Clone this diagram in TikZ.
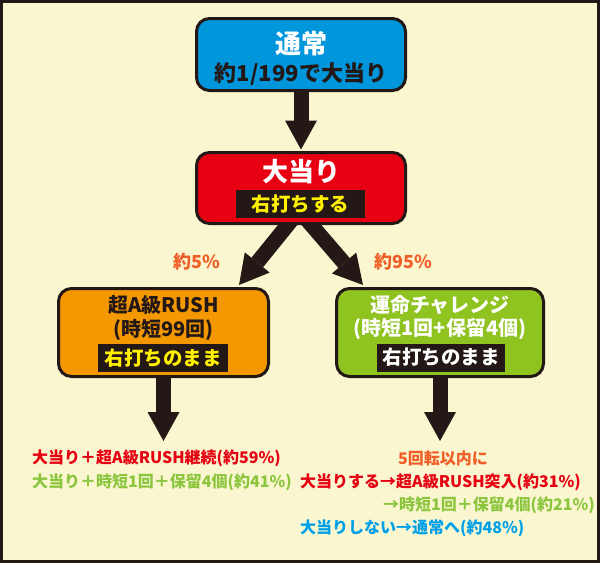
\documentclass[tikz,border=0pt]{standalone}
\usepackage{fontspec}
\setmainfont{Noto Sans CJK JP}
\usetikzlibrary{arrows.meta,backgrounds}
\definecolor{cream}{RGB}{250,246,208}
\definecolor{dark}{RGB}{35,24,21}
\definecolor{boxblue}{RGB}{0,150,219}
\definecolor{boxred}{RGB}{230,0,18}
\definecolor{boxorange}{RGB}{243,152,0}
\definecolor{boxgreen}{RGB}{143,195,31}
\definecolor{baryellow}{RGB}{255,241,0}
\definecolor{lblorange}{RGB}{240,95,40}
\definecolor{txtred}{RGB}{230,0,18}
\definecolor{txtgreen}{RGB}{140,198,63}
\definecolor{txtblue}{RGB}{0,160,233}
\tikzset{
  box/.style={draw=dark,line width=3pt,rounded corners=13pt,inner sep=0pt},
  txt/.style={inner sep=0pt,font=\bfseries\fontsize{#1}{#1}\selectfont},
  bar/.style={fill=dark,inner sep=0pt,minimum height=28pt,font=\bfseries\fontsize{19.5}{19.5}\selectfont},
  bigarrow/.style={draw=dark,line width=15pt,-{Triangle[width=32pt,length=29pt,line width=0pt]}},
}
\begin{document}
\begin{tikzpicture}[x=1pt,y=-1pt]
\useasboundingbox (0,0) rectangle (600,563);
\begin{pgfonlayer}{background}
\fill[cream] (0,0) rectangle (600,563);
\draw[dark,line width=3pt] (1.5,1.5) rectangle (598,561.3);
\end{pgfonlayer}

% boxes
\node[box,fill=boxblue,minimum width=209pt,minimum height=72pt] (normal) at (301,54.5) {};
\node[txt=26,text=white] (normalT) at (301,43.5) {通常};
\node[txt=22,text=dark] (normalP) at (301,74) {約1/199で大当り};

\node[box,fill=boxred,minimum width=209pt,minimum height=71pt] (hit) at (301,188) {};
\node[txt=26,text=white] (hitT) at (301,172) {大当り};
\node[bar,text=baryellow,minimum width=129pt] (hitB) at (300.5,204) {右打ちする};

\node[box,fill=boxorange,minimum width=210pt,minimum height=88pt] (rush) at (163.5,332.5) {};
\node[txt=20,text=dark] (rushT) at (163.5,305) {超A級RUSH};
\node[txt=20,text=dark] (rushS) at (163.5,330) {(時短99回)};
\node[bar,text=baryellow,minimum width=130pt] (rushB) at (163,358) {右打ちのまま};

\node[box,fill=boxgreen,minimum width=207pt,minimum height=88pt] (chal) at (440,332.5) {};
\node[txt=20,text=white] (chalT) at (440,305) {運命チャレンジ};
\node[txt=20,text=white] (chalS) at (440,328.5) {(時短1回+保留4個)};
\node[bar,text=white,minimum width=128pt] (chalB) at (441,357.5) {右打ちのまま};

% labels
\node[txt=18,text=lblorange] (p5) at (197,262) {約5\%};
\node[txt=18,text=lblorange] (p95) at (403,262) {約95\%};

% result texts
\node[txt=16,text=txtred,anchor=west] (r1) at (32,458) {大当り＋超A級RUSH継続(約59\%)};
\node[txt=16,text=txtgreen,anchor=west] (r2) at (32,482) {大当り＋時短1回＋保留4個(約41\%)};
\node[txt=16,text=lblorange] (c0) at (443,458) {5回転以内に};
\node[txt=16,text=txtred,anchor=west] (c1) at (300,482) {大当りする→超A級RUSH突入(約31\%)};
\node[txt=16,text=txtgreen,anchor=west] (c2) at (383,505) {→時短1回＋保留4個(約21\%)};
\node[txt=16,text=txtblue,anchor=west] (c3) at (300,528) {大当りしない→通常へ(約48\%)};

\coordinate (rushEnd) at (163.5,441);
\coordinate (chalEnd) at (440,441);

\begin{pgfonlayer}{background}
\draw[bigarrow] ([yshift=5pt]normal.south) -- ([yshift=1.5pt]hit.north);
\draw[bigarrow] ([xshift=-5.3pt,yshift=10pt]hit.south) -- ([xshift=-31pt,yshift=2pt]rush.north east);
\draw[bigarrow] ([xshift=1.8pt,yshift=10pt]hit.south) -- ([xshift=28pt,yshift=2pt]chal.north west);
\draw[bigarrow] ([yshift=5pt]rush.south) -- (rushEnd);
\draw[bigarrow] ([yshift=5pt]chal.south) -- (chalEnd);
\end{pgfonlayer}
\end{tikzpicture}
\end{document}
